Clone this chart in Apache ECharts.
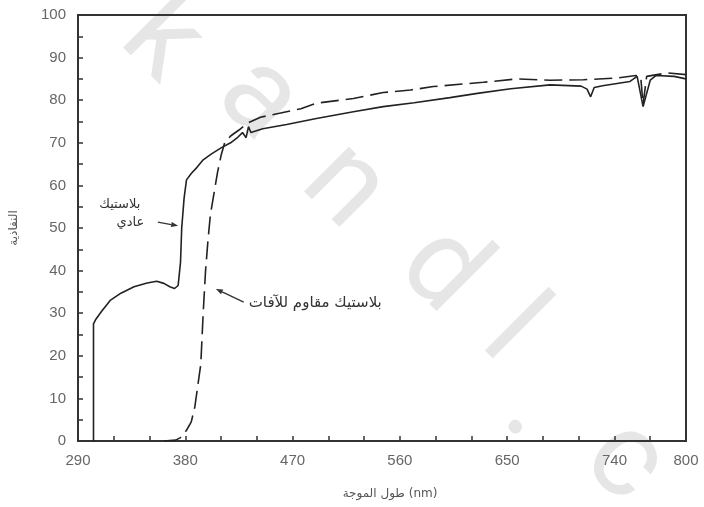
<!DOCTYPE html>
<html>
<head>
<meta charset="utf-8">
<script src="https://cdn.jsdelivr.net/npm/echarts@6/dist/echarts.min.js"></script>
<style>
html,body{margin:0;padding:0;background:#fff;}
#chart{width:704px;height:507px;}
</style>
</head>
<body>
<div id="chart"></div>
<script>
// ---- data ----
const xOrdinary = [303,303,305,310,317,326,337,348,356,362,367,371,374,376,377,379,381,385,390,395,402,410,418,424,428,431,433,435,437,445,465,490,521,546,572,602,625,653,686,712,717,720,723,730,753,759,764,770,775,790,800];
const yOrdinary = [0,27.5,28.6,30.5,33,34.7,36.2,37.1,37.5,37.0,36.2,35.8,36.5,42,50,57,61.3,62.8,64.3,66,67.4,68.8,70,71.3,72.4,71.2,73.8,72.4,72.6,73.3,74.3,75.7,77.3,78.5,79.4,80.6,81.6,82.7,83.6,83.3,82.6,80.8,83.0,83.4,84.4,85.6,78.5,84.7,85.8,85.6,85.0];

const xResistant = [362,372,376,381,385,388,390,393,395,397,399,401,404,407,410,413,418,425,432,443,460,477,490,521,546,569,588,630,658,686,714,742,758,762,764,767,784,800];
const yResistant = [0,0.2,0.8,2.5,4.5,8,12,18,30,40,47,53,58,63,67,70,71.6,73,74.6,76,77,78,79.3,80.4,81.8,82.4,83.2,84.2,85.0,84.7,84.8,85.2,85.8,85.5,79,85.6,86.4,86.0];

const xMin = 290, xMax = 800, xStep = 30, xLabelStep = 90;
const yMin = 0, yMax = 100, yStep = 5, yLabelStep = 10;

const xTitle = 'طول الموجة (nm)';
const yTitle = 'النفاذية';
const labelOrdinary = ['بلاستيك', 'عادي'];
const labelResistant = 'بلاستيك مقاوم للآفات';
const watermark = ['k','a','n','d','l','.','c'];

function zip(xs, ys){ return xs.map((x,i)=>[x, ys[i]]); }

const chart = echarts.init(document.getElementById('chart'), null, {renderer:'canvas'});
const axisColor = '#333';
const option = {
  animation: false,
  backgroundColor: '#fff',
  grid: {left: 77, right: 18, top: 15, bottom: 66, show: true, borderColor: axisColor, borderWidth: 2, backgroundColor: 'transparent'},
  xAxis: {
    type: 'value', min: xMin, max: xMax, interval: xStep,
    name: xTitle, nameLocation: 'middle', nameGap: 47,
    nameTextStyle: {fontFamily: 'DejaVu Sans', fontSize: 12, color: '#555', padding: [0, 0, 0, 16]},
    axisLine: {lineStyle: {color: axisColor, width: 2}},
    axisTick: {inside: true, length: 5, lineStyle: {color: axisColor, width: 1.5}},
    splitLine: {show: false},
    axisLabel: {
      margin: 12, color: '#666', fontFamily: 'Liberation Sans', fontSize: 15,
      showMaxLabel: true,
      formatter: v => (((v - xMin) % xLabelStep === 0) || v === xMax) ? String(v) : ''
    }
  },
  yAxis: {
    type: 'value', min: yMin, max: yMax, interval: yStep,
    name: yTitle, nameLocation: 'middle', nameGap: 58, nameRotate: 90,
    nameTextStyle: {fontFamily: 'DejaVu Sans', fontSize: 12, color: '#555'},
    axisLine: {show: true, lineStyle: {color: axisColor, width: 2}},
    axisTick: {show: true, inside: true, length: 5, lineStyle: {color: axisColor, width: 1.5}},
    splitLine: {show: false},
    axisLabel: {
      margin: 12, color: '#666', fontFamily: 'Liberation Sans', fontSize: 15,
      formatter: v => (v % yLabelStep === 0) ? String(v) : ''
    }
  },
  series: [
    {
      name: labelOrdinary.join(' '), type: 'line', data: zip(xOrdinary, yOrdinary),
      showSymbol: false, z: 5,
      lineStyle: {color: '#222', width: 1.6}
    },
    {
      name: labelResistant, type: 'line', data: zip(xResistant, yResistant),
      showSymbol: false, z: 4,
      lineStyle: {color: '#222', width: 1.6, type: [18, 7]}
    }
  ]
};
chart.setOption(option);

// annotations (positioned in data coordinates)
function px(p){ return chart.convertToPixel({gridIndex: 0}, p); }
function arrow(from, to){
  const a = px(from), b = px(to);
  const ang = Math.atan2(b[1]-a[1], b[0]-a[0]);
  const L = 7, W = 2.6;
  const bx = b[0] - L*Math.cos(ang), by = b[1] - L*Math.sin(ang);
  const nx = -Math.sin(ang), ny = Math.cos(ang);
  return [
    {type:'line', shape:{x1:a[0], y1:a[1], x2:bx, y2:by}, style:{stroke:'#333', lineWidth:1.3}, z: 20},
    {type:'polygon', shape:{points:[[b[0],b[1]],[bx+nx*W,by+ny*W],[bx-nx*W,by-ny*W]]}, style:{fill:'#333'}, z: 20}
  ];
}
function label(text, at, size){
  const p = px(at);
  return {type:'text', x:p[0], y:p[1], z: 20,
    style:{text:text, fill:'#333', font: size + 'px "DejaVu Sans"', align:'center', verticalAlign:'middle'}};
}
const wmPos = [[160,42],[257,100],[343,188],[440,272],[510,333],[533,410],[623,463]];
const wm = watermark.map((t,i)=>({type:'text', x: wmPos[i][0], y: wmPos[i][1], rotation: -Math.PI/4, z: -1, silent: true,
  style:{text:t, fill:'#e6e6e6', font:'120px Roboto', align:'center', verticalAlign:'middle'}}));

chart.setOption({graphic: [].concat(
  wm,
  arrow([357, 51.4], [374, 50.5]),
  arrow([429, 32.6], [405.6, 35.7]),
  [label(labelOrdinary[0], [325, 55.4], 13), label(labelOrdinary[1], [334, 51.2], 13), label(labelResistant, [489, 32.4], 15)]
)});
</script>
</body>
</html>
